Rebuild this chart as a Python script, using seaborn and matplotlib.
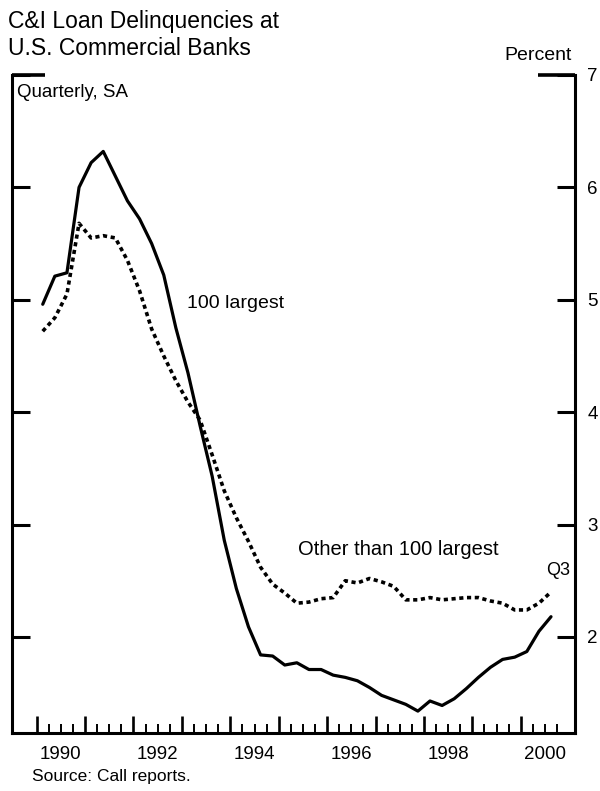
import pandas as pd
import numpy as np
import matplotlib
matplotlib.use("Agg")
import matplotlib.pyplot as plt
import matplotlib.transforms as mtransforms
import seaborn as sns


# Quarterly delinquency rates, 1990Q1 - 2000Q3 (percent, SA)
quarters = pd.period_range("1990Q1", "2000Q3", freq="Q")

largest_100 = [4.96, 5.21, 5.24, 6.00, 6.22, 6.32, 6.10, 5.88, 5.72, 5.50,
               5.22, 4.75, 4.35, 3.88, 3.43, 2.86, 2.43, 2.09, 1.84, 1.83,
               1.75, 1.77, 1.71, 1.71, 1.66, 1.64, 1.61, 1.55, 1.48, 1.44,
               1.40, 1.34, 1.43, 1.39, 1.45, 1.54, 1.64, 1.73, 1.80, 1.82,
               1.87, 2.05, 2.18]

other_banks = [4.72, 4.84, 5.05, 5.68, 5.55, 5.57, 5.55, 5.35, 5.08, 4.74,
               4.50, 4.28, 4.09, 3.93, 3.62, 3.30, 3.06, 2.85, 2.62, 2.47,
               2.39, 2.30, 2.31, 2.34, 2.35, 2.50, 2.48, 2.52, 2.49, 2.45,
               2.33, 2.33, 2.35, 2.33, 2.34, 2.35, 2.35, 2.32, 2.30, 2.24,
               2.24, 2.30, 2.40]

year_labels = ["1990", "1992", "1994", "1996", "1998", "2000"]
y_ticks = [2, 3, 4, 5, 6, 7]


sns.set_style("ticks")
plt.rcParams["font.family"] = ["Liberation Sans", "DejaVu Sans"]
for key in ["text.color", "axes.labelcolor", "xtick.color", "ytick.color",
            "axes.edgecolor"]:
    plt.rcParams[key] = "black"

# quarter midpoints as decimal years
t = [p.year + (p.quarter - 0.5) / 4 for p in quarters]
df = pd.DataFrame({"t": t, "large": largest_100, "other": other_banks})

fig = plt.figure(figsize=(6, 7.91), dpi=100)
ax = fig.add_axes([0.0208, 0.0733, 0.9375, 0.8319])

sns.lineplot(data=df, x="t", y="large", ax=ax, color="black", linewidth=2.3)
sns.lineplot(data=df, x="t", y="other", ax=ax, color="black", linewidth=2.6,
             linestyle=(0, (1.15, 1.0)))

ax.set_xlim(1989.5, 2001.12)
ax.set_ylim(1.145, 7)
ax.set_xlabel("")
ax.set_ylabel("")

# frame: left, right, bottom; only short stubs on top
for side in ["left", "right", "bottom"]:
    ax.spines[side].set_linewidth(2.2)
ax.spines["top"].set_visible(False)
ax.plot([0, 0.058], [1, 1], transform=ax.transAxes, color="black",
        linewidth=2.6, clip_on=False, solid_capstyle="butt")
ax.plot([0.935, 1], [1, 1], transform=ax.transAxes, color="black",
        linewidth=2.6, clip_on=False, solid_capstyle="butt")

# y axis: ticks both sides pointing in, labels on the right
ax.set_yticks(y_ticks)
ax.set_yticklabels([str(v) for v in y_ticks])
ax.yaxis.set_ticks_position("both")
ax.tick_params(axis="y", direction="in", length=13, width=2.2,
               labelleft=False, labelright=True, labelsize=13.5, pad=9)

# x axis: long ticks at year starts
ax.set_xticks(np.arange(1990, 2001))
ax.tick_params(axis="x", direction="in", length=12.5, width=1.9,
               bottom=True, top=False, labelbottom=False)

# short ticks for the quarters in between
blend = mtransforms.blended_transform_factory(ax.transData, ax.transAxes)
quarter_marks = [q for q in np.arange(1990, 2000.76, 0.25)
                 if not float(q).is_integer()]
ax.vlines(quarter_marks, 0, 0.013, transform=blend, color="black",
          linewidth=1.4, clip_on=False)

# year labels centered within the year
for lab in year_labels:
    ax.text(int(lab) + 0.5, -0.02, lab, transform=blend, ha="center",
            va="top", fontsize=13.5)

ax.text(1994.1, 4.97, "100 largest", ha="center", va="center", fontsize=14)
ax.text(1997.47, 2.78, "Other than 100 largest", ha="center", va="center",
        fontsize=14.5)
ax.text(2001.03, 2.59, "Q3", ha="right", va="center", fontsize=13)

fig.text(0.0133, 0.9646, "C&I Loan Delinquencies at", fontsize=16.5,
         va="baseline")
fig.text(0.0133, 0.9305, "U.S. Commercial Banks", fontsize=16.5,
         va="baseline")
fig.text(0.953, 0.9241, "Percent", fontsize=14, ha="right", va="baseline")
fig.text(0.0283, 0.8774, "Quarterly, SA", fontsize=13.5, va="baseline")
fig.text(0.053, 0.0126, "Source: Call reports.", fontsize=12.5,
         va="baseline")

fig.savefig("out.png", dpi=100)
plt.close(fig)
